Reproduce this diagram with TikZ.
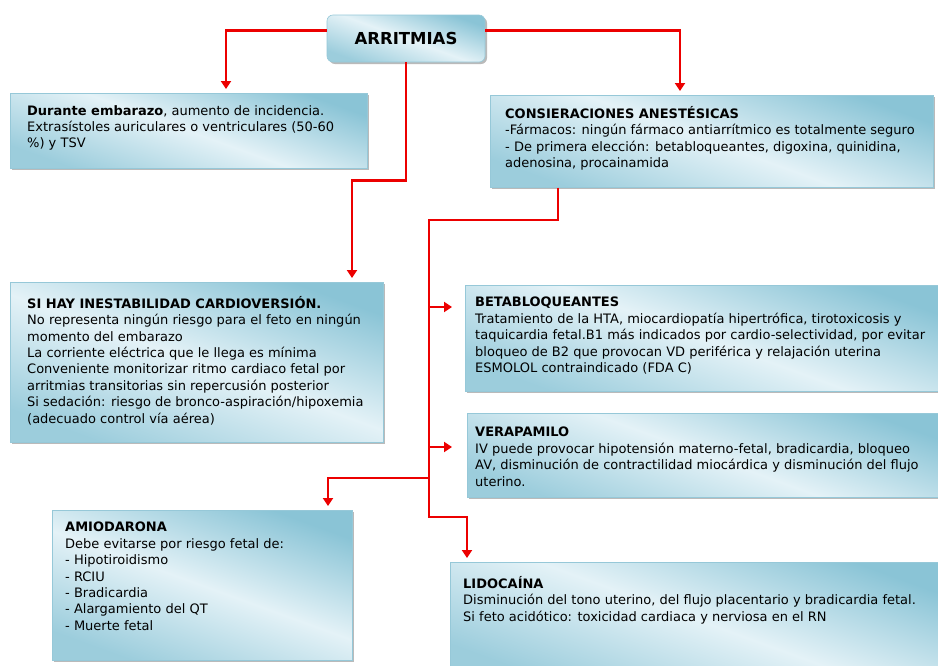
\documentclass[tikz,border=0pt]{standalone}
\usepackage{fontspec}
\setmainfont{DejaVu Sans}
\usetikzlibrary{arrows.meta,positioning,calc,shadows}

\definecolor{rojo}{RGB}{236,0,0}
\definecolor{cajaoscura}{RGB}{138,196,214}
\definecolor{cajaclara}{RGB}{228,242,247}
\definecolor{cajaborde}{RGB}{150,200,216}

\tikzset{
  caja/.style={draw=cajaborde, line width=0.6pt, anchor=north west, inner sep=0pt,
    top color=cajaoscura, bottom color=cajaoscura!85, middle color=cajaclara,
    shading angle=-20,
    drop shadow={shadow xshift=2pt, shadow yshift=-2pt, fill=black!45, opacity=0.6}},
  raiz/.style={caja, rounded corners=6pt, font=\fontsize{16.5}{18}\selectfont\bfseries},
  texto/.style={anchor=north west, align=left, inner sep=0pt,
    font=\fontsize{13}{16.4}\selectfont},
  flecha/.style={draw=rojo, line width=2.8pt, shorten >=4pt,
    -{Triangle[width=10pt,length=8pt]}},
}

\begin{document}
\begin{tikzpicture}[x=1pt,y=-1pt]
  \useasboundingbox[fill=white] (0,0) rectangle (938,665);

  \node[raiz, minimum width=158pt, minimum height=47pt, anchor=center] (arritmias) at (406,38.5) {ARRITMIAS};

  \node[caja, minimum width=357pt, minimum height=75pt] (durante) at (10,93) {};
  \node[texto] (duranteT) at ([shift={(17,12)}]durante.north west)
    {\textbf{Durante embarazo}, aumento de incidencia.\\
     Extrasístoles auriculares o ventriculares (50-60\\
     \%) y TSV};

  \node[caja, minimum width=443pt, minimum height=92pt] (consid) at (490,95) {};
  \node[texto] (considT) at ([shift={(15,11)}]consid.north west)
    {\textbf{CONSIERACIONES ANESTÉSICAS}\\
     -Fármacos: ningún fármaco antiarrítmico es totalmente seguro\\
     - De primera elección: betabloqueantes, digoxina, quinidina,\\
     adenosina, procainamida};

  \node[caja, minimum width=373pt, minimum height=160pt] (sihay) at (10,282) {};
  \node[texto] (sihayT) at ([shift={(17,14)}]sihay.north west)
    {\textbf{SI HAY INESTABILIDAD CARDIOVERSIÓN.}\\
     No representa ningún riesgo para el feto en ningún\\
     momento del embarazo\\
     La corriente eléctrica que le llega es mínima\\
     Conveniente monitorizar ritmo cardiaco fetal por\\
     arritmias transitorias sin repercusión posterior\\
     Si sedación: riesgo de bronco-aspiración/hipoxemia\\
     (adecuado control vía aérea)};

  \node[caja, minimum width=480pt, minimum height=106pt] (beta) at (465,285) {};
  \node[texto] (betaT) at ([shift={(10,12)}]beta.north west)
    {\textbf{BETABLOQUEANTES}\\
     Tratamiento de la HTA, miocardiopatía hipertrófica, tirotoxicosis y\\
     taquicardia fetal.B1 más indicados por cardio-selectividad, por evitar\\
     bloqueo de B2 que provocan VD periférica y relajación uterina\\
     ESMOLOL contraindicado (FDA C)};

  \node[caja, minimum width=480pt, minimum height=84pt] (vera) at (467,413) {};
  \node[texto] (veraT) at ([shift={(8,14)}]vera.north west)
    {\textbf{VERAPAMILO}\\
     IV puede provocar hipotensión materno-fetal, bradicardia, bloqueo\\
     AV, disminución de contractilidad miocárdica y disminución del flujo\\
     uterino.};

  \node[caja, minimum width=300pt, minimum height=150pt] (amio) at (52,510) {};
  \node[texto] (amioT) at ([shift={(13,12)}]amio.north west)
    {\textbf{AMIODARONA}\\
     Debe evitarse por riesgo fetal de:\\
     - Hipotiroidismo\\
     - RCIU\\
     - Bradicardia\\
     - Alargamiento del QT\\
     - Muerte fetal};

  \node[caja, minimum width=495pt, minimum height=115pt] (lido) at (450,562) {};
  \node[texto] (lidoT) at ([shift={(13,14)}]lido.north west)
    {\textbf{LIDOCAÍNA}\\
     Disminución del tono uterino, del flujo placentario y bradicardia fetal.\\
     Si feto acidótico: toxicidad cardiaca y nerviosa en el RN};

  \coordinate (ramaA) at (429,220);
  \coordinate (ramaB) at (429,517);
  \coordinate (ramaC) at (429,478);
  \coordinate (betaIn) at ([shift={(-9,22)}]beta.north west);
  \coordinate (veraIn) at ([shift={(-11,34)}]vera.north west);

  \draw[flecha] ([yshift=8pt]arritmias.west) -| ([xshift=216pt]durante.north west);
  \draw[flecha] ([yshift=8pt]arritmias.east) -| ([xshift=190pt]consid.north west);
  \draw[flecha] (arritmias.south) -- ++(0,118) -| ([xshift=342pt]sihay.north west);
  \draw[flecha] ([xshift=68pt]consid.south west) |- (ramaA) -- (ramaB) -| ([xshift=17pt]lido.north west);
  \draw[flecha] (ramaA |- betaIn) -- (betaIn);
  \draw[flecha] (ramaA |- veraIn) -- (veraIn);
  \draw[flecha] (ramaC) -| ([xshift=276pt]amio.north west);

\end{tikzpicture}
\end{document}
